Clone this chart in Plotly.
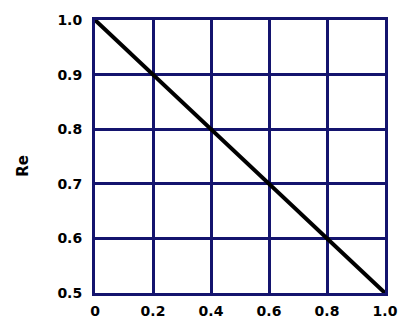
import plotly.graph_objects as go

x_vals = [0.0, 1.0]
re_vals = [1.0, 0.5]
x_ticks = [0, 0.2, 0.4, 0.6, 0.8, 1.0]
x_tick_labels = ["0", "0.2", "0.4", "0.6", "0.8", "1.0"]
y_ticks = [0.5, 0.6, 0.7, 0.8, 0.9, 1.0]
y_tick_labels = ["0.5", "0.6", "0.7", "0.8", "0.9", "1.0"]
y_title = "Re"

grid_color = "#14146e"
fig = go.Figure()
fig.add_trace(go.Scatter(x=x_vals, y=re_vals, mode="lines",
                         line=dict(color="#000000", width=4), showlegend=False,
                         hoverinfo="skip"))

tickfont = dict(family="DejaVu Sans", size=14, color="#000000", weight="bold")
fig.update_layout(
    width=410, height=331,
    margin=dict(l=95, r=15, t=20, b=29),
    paper_bgcolor="white", plot_bgcolor="white",
    xaxis=dict(range=[0, 1.0], tickvals=x_ticks, ticktext=x_tick_labels,
               showgrid=True, gridcolor=grid_color, gridwidth=3,
               showline=True, linecolor=grid_color, linewidth=3, mirror=True,
               zeroline=False, ticks="", tickfont=tickfont, ticklabelstandoff=3),
    yaxis=dict(range=[0.5, 1.0], tickvals=y_ticks, ticktext=y_tick_labels,
               showgrid=True, gridcolor=grid_color, gridwidth=3,
               showline=True, linecolor=grid_color, linewidth=3, mirror=True,
               zeroline=False, ticks="", tickfont=tickfont, ticklabelstandoff=7),
)
fig.add_annotation(text=y_title, xref="paper", yref="paper",
                   x=(21 - 95) / 300, y=(302 - 170) / 282,
                   xanchor="center", yanchor="middle",
                   showarrow=False, textangle=-90,
                   font=dict(family="DejaVu Sans", size=15, color="#000000", weight="bold"))
fig.write_html("out.html", config={"displayModeBar": False},
               post_script="document.body.style.margin='0';document.documentElement.style.overflow='hidden';")
